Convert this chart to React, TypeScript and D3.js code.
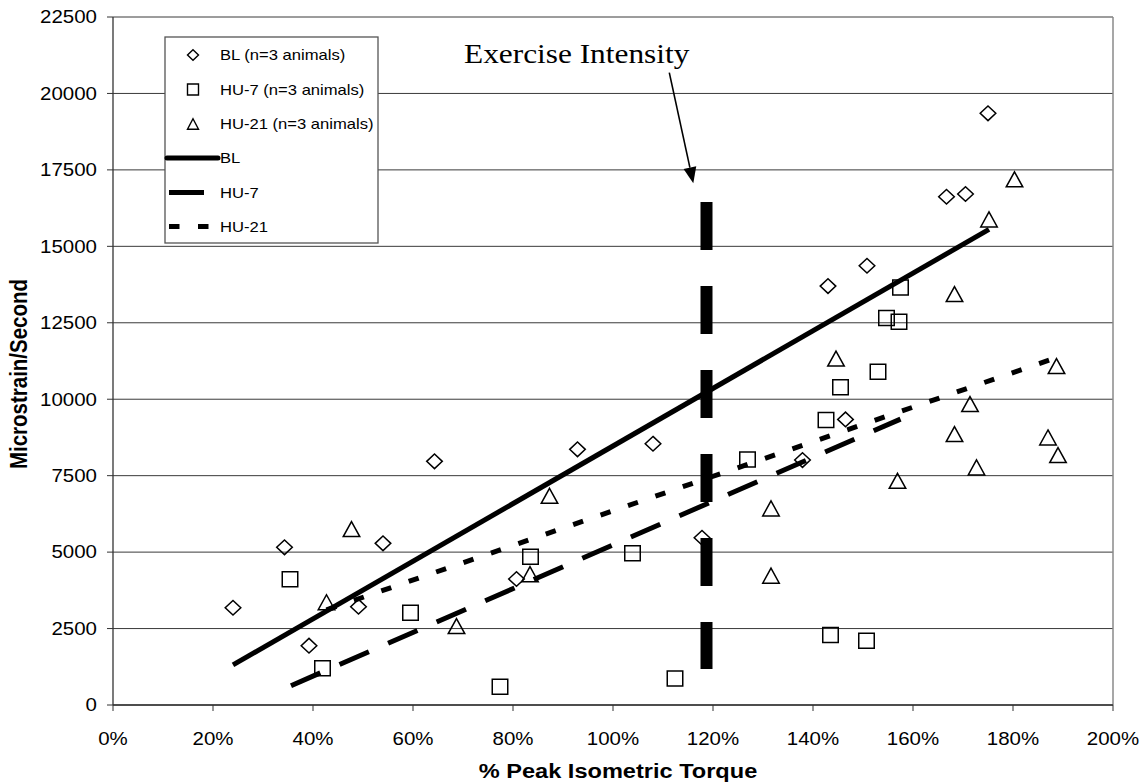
import React from "react";
import * as d3 from "d3";

// ---------- data ----------
const xTicks = [0, 20, 40, 60, 80, 100, 120, 140, 160, 180, 200];
const yTicks = [0, 2500, 5000, 7500, 10000, 12500, 15000, 17500, 20000, 22500];

const blX = [24, 34.3, 39.2, 49.1, 54, 64.3, 80.7, 92.9, 108, 117.8, 137.9, 143, 146.5, 150.8, 166.7, 170.5, 175];
const blY = [3180, 5157, 1940, 3215, 5287, 7968, 4120, 8360, 8545, 5470, 8010, 13700, 9340, 14365, 16620, 16710, 19350];

const hu7X = [35.4, 41.9, 59.5, 77.4, 83.5, 103.9, 112.4, 126.9, 142.6, 143.5, 145.5, 150.7, 153, 154.7, 157.2, 157.5];
const hu7Y = [4110, 1200, 3020, 600, 4850, 4960, 870, 8030, 9320, 2290, 10390, 2100, 10900, 12660, 12530, 13650];

const hu21X = [42.7, 47.7, 68.7, 83.4, 87.3, 131.6, 131.6, 144.6, 156.9, 168.3, 168.3, 171.4, 172.7, 175.2, 180.3, 187, 188.7, 189];
const hu21Y = [3360, 5755, 2580, 4280, 6840, 6430, 4230, 11330, 7330, 8860, 13440, 9840, 7770, 15880, 17190, 8750, 11085, 8175];

const blTrendX = [24, 175.2];
const blTrendY = [1310, 15555];
const hu7TrendX = [35.6, 157.5];
const hu7TrendY = [630, 9350];
const hu21TrendX = [42.7, 189];
const hu21TrendY = [3110, 11380];

const exerciseX = [118.7, 118.7];
const exerciseY = [1180, 16450];

const legendLabels = ["BL (n=3 animals)", "HU-7 (n=3 animals)", "HU-21 (n=3 animals)", "BL", "HU-7", "HU-21"];

// ---------- layout ----------
const W = 1145;
const H = 784;
const SX = 1.17; // horizontal stretch of the text in the reference
const SANS = "Arial, 'Liberation Sans', sans-serif";
const SERIF = "'Times New Roman', 'Liberation Serif', serif";

const x = d3.scaleLinear().domain([0, 200]).range([113, 1113]);
const y = d3.scaleLinear().domain([0, 22500]).range([705, 17]);

const pts = (xs: number[], ys: number[]) => xs.map((v, i) => [v, ys[i]] as [number, number]);
const line = d3
  .line<[number, number]>()
  .x((d) => x(d[0]))
  .y((d) => y(d[1]));

function diamond(cx: number, cy: number, rx: number, ry: number) {
  return `M${cx},${cy - ry}L${cx + rx},${cy}L${cx},${cy + ry}L${cx - rx},${cy}Z`;
}
function square(cx: number, cy: number, w: number, h: number) {
  return `M${cx - w / 2},${cy - h / 2}h${w}v${h}h${-w}Z`;
}
function triangle(cx: number, cy: number, w: number, h: number) {
  return `M${cx},${cy - h / 2}L${cx + w / 2},${cy + h / 2}L${cx - w / 2},${cy + h / 2}Z`;
}

function SText(props: any) {
  const { x: tx, y: ty, sx = SX, children, ...rest } = props;
  return (
    <text transform={`translate(${tx},${ty}) scale(${sx},1)`} {...rest}>
      {children}
    </text>
  );
}

export default function App() {
  const legendRows = [55, 89.5, 124, 158, 192.5, 226.5];
  const legX = 165;
  const legTop = 37;
  const legRight = 378;
  const legBottom = 243;
  const markX = 193;
  const textX = 220;

  // arrow
  const ax0 = 669.3, ay0 = 72.7, ax1 = 693.3, ay1 = 183.3;
  const ang = Math.atan2(ay1 - ay0, ax1 - ax0);
  const ahL = 16, ahW = 6.5;
  const bx = ax1 - ahL * Math.cos(ang), by = ay1 - ahL * Math.sin(ang);
  const px = -Math.sin(ang) * ahW, py = Math.cos(ang) * ahW;

  return (
    <svg
      width={W}
      height={H}
      style={{ position: "absolute", left: 0, top: 0, background: "#fff" }}
      fontFamily={SANS}
    >
      <rect x={0} y={0} width={W} height={H} fill="#fff" />

      {/* gridlines */}
      {yTicks.map((t) => (
        <line key={"g" + t} x1={x(0)} x2={x(200)} y1={y(t)} y2={y(t)} stroke="#3a3a3a" strokeWidth={1} />
      ))}
      {/* right border */}
      <line x1={x(200)} x2={x(200)} y1={y(22500)} y2={y(0)} stroke="#8a8a8a" strokeWidth={1.5} />

      {/* axes */}
      <line x1={x(0)} x2={x(0)} y1={y(22500)} y2={y(0)} stroke="#333" strokeWidth={1.3} />
      <line x1={x(0)} x2={x(200)} y1={y(0)} y2={y(0)} stroke="#333" strokeWidth={1.3} />
      {yTicks.map((t) => (
        <g key={"yt" + t}>
          <line x1={x(0) - 6} x2={x(0)} y1={y(t)} y2={y(t)} stroke="#333" strokeWidth={1} />
          <SText x={97} y={y(t) + 6.3} textAnchor="end" fontSize={17.5} fill="#000">
            {String(t)}
          </SText>
        </g>
      ))}
      {xTicks.map((t) => (
        <g key={"xt" + t}>
          <line x1={x(t)} x2={x(t)} y1={y(0)} y2={y(0) + 6} stroke="#333" strokeWidth={1} />
          <SText x={x(t)} y={y(0) + 40} textAnchor="middle" fontSize={17.5} fill="#000">
            {t + "%"}
          </SText>
        </g>
      ))}

      {/* axis titles */}
      <SText x={618} y={778} textAnchor="middle" fontSize={20.5} fontWeight="bold" sx={1.15}>
        % Peak Isometric Torque
      </SText>
      <text
        transform={`translate(27,374) rotate(-90) scale(1,${SX})`}
        textAnchor="middle"
        fontSize={20.5}
        fontWeight="bold"
      >
        Microstrain/Second
      </text>

      {/* markers */}
      {pts(blX, blY).map((d, i) => (
        <path key={"bl" + i} d={diamond(x(d[0]), y(d[1]), 7.8, 7.3)} fill="none" stroke="#000" strokeWidth={1.5} />
      ))}
      {pts(hu7X, hu7Y).map((d, i) => (
        <path key={"h7" + i} d={square(x(d[0]), y(d[1]), 15.5, 15)} fill="none" stroke="#000" strokeWidth={1.5} />
      ))}
      {pts(hu21X, hu21Y).map((d, i) => (
        <path key={"h21" + i} d={triangle(x(d[0]), y(d[1]), 16.5, 15)} fill="none" stroke="#000" strokeWidth={1.5} />
      ))}

      {/* trend lines */}
      <path d={line(pts(blTrendX, blTrendY)) || ""} stroke="#000" strokeWidth={5} fill="none" />
      <path d={line(pts(hu7TrendX, hu7TrendY)) || ""} stroke="#000" strokeWidth={5} fill="none" strokeDasharray="32 21" />
      <path d={line(pts(hu21TrendX, hu21TrendY)) || ""} stroke="#000" strokeWidth={5} fill="none" strokeDasharray="10.5 18.5" />

      {/* exercise intensity line */}
      <path
        d={line(pts(exerciseX, exerciseY).reverse()) || ""}
        stroke="#000"
        strokeWidth={12}
        fill="none"
        strokeDasharray="48 36"
      />

      {/* annotation */}
      <SText x={464} y={62.5} fontSize={27.5} fontFamily={SERIF} sx={1.14}>
        Exercise Intensity
      </SText>
      <line x1={ax0} y1={ay0} x2={bx} y2={by} stroke="#000" strokeWidth={1.6} />
      <path d={`M${ax1},${ay1}L${bx + px},${by + py}L${bx - px},${by - py}Z`} fill="#000" />

      {/* legend */}
      <rect x={legX} y={legTop} width={legRight - legX} height={legBottom - legTop} fill="#fff" stroke="#555" strokeWidth={1.3} />
      <path d={diamond(markX, legendRows[0], 5.5, 5.2)} fill="none" stroke="#000" strokeWidth={1.4} />
      <path d={square(markX, legendRows[1], 11, 11)} fill="none" stroke="#000" strokeWidth={1.4} />
      <path d={triangle(markX, legendRows[2], 11, 10.5)} fill="none" stroke="#000" strokeWidth={1.4} />
      <line x1={167} x2={218} y1={legendRows[3]} y2={legendRows[3]} stroke="#000" strokeWidth={5} strokeLinecap="round" />
      <line x1={169} x2={204} y1={legendRows[4]} y2={legendRows[4]} stroke="#000" strokeWidth={5} />
      <line x1={169} x2={209} y1={legendRows[5]} y2={legendRows[5]} stroke="#000" strokeWidth={5} strokeDasharray="10.5 18.5" />
      {legendLabels.map((l, i) => (
        <SText key={"lg" + i} x={textX} y={legendRows[i] + 5.2} fontSize={14.2}>
          {l}
        </SText>
      ))}
    </svg>
  );
}
